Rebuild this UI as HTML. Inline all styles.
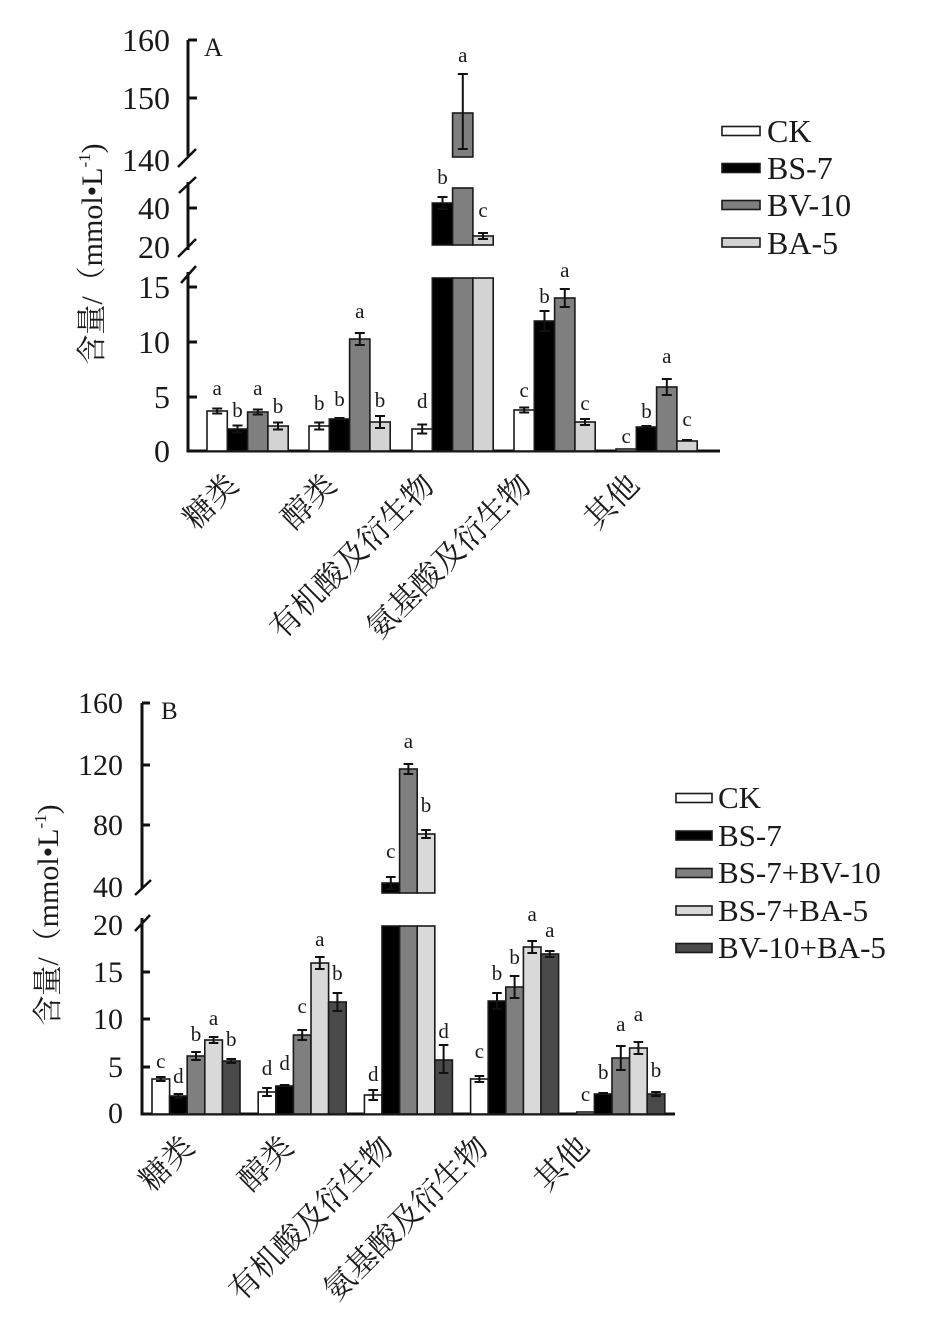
<!DOCTYPE html>
<html>
<head>
<meta charset="utf-8">
<style>
html,body{margin:0;padding:0;background:#fff;}
svg{display:block;}
.t{font-family:"Liberation Serif","Noto Serif CJK SC",serif;fill:#1a1a1a;}
.cj{font-family:"Liberation Serif","Noto Serif CJK SC",serif;fill:#1a1a1a;font-size:31px;}
.lt{font-family:"Liberation Serif",serif;fill:#1a1a1a;font-size:21px;text-anchor:middle;}
.ax{stroke:#111;stroke-width:3;fill:none;}
.b{stroke:#1a1a1a;stroke-width:1.6;}
.e{stroke:#111;stroke-width:2;fill:none;}
</style>
</head>
<body>
<svg width="950" height="1330" viewBox="0 0 950 1330" xmlns="http://www.w3.org/2000/svg">
<rect x="0" y="0" width="950" height="1330" fill="#fff"/>

<!-- ================= PANEL A ================= -->
<!-- axis -->
<g class="ax">
  <line x1="188" y1="40" x2="188" y2="156"/>
  <line x1="188" y1="182" x2="188" y2="250"/>
  <line x1="188" y1="272" x2="188" y2="452"/>
  <line x1="186.5" y1="451" x2="720" y2="451"/>
  <!-- ticks -->
  <line x1="188" y1="40" x2="197" y2="40"/>
  <line x1="188" y1="98" x2="197" y2="98"/>
  <line x1="188" y1="208" x2="197" y2="208"/>
  <line x1="188" y1="287" x2="197" y2="287"/>
  <line x1="188" y1="342" x2="197" y2="342"/>
  <line x1="188" y1="397" x2="197" y2="397"/>
  <!-- break slashes -->
  <line x1="178" y1="167" x2="196" y2="149" stroke-width="2.5"/>
  <line x1="179" y1="193" x2="196" y2="177" stroke-width="2.5"/>
  <line x1="178" y1="257" x2="196" y2="239" stroke-width="2.5"/>
  <line x1="181" y1="283" x2="196" y2="266" stroke-width="2.5"/>
</g>
<!-- tick labels -->
<g class="t" font-size="32" text-anchor="end">
  <text x="170" y="51">160</text>
  <text x="170" y="109">150</text>
  <text x="170" y="171">140</text>
  <text x="170" y="219">40</text>
  <text x="170" y="258">20</text>
  <text x="170" y="298">15</text>
  <text x="170" y="353">10</text>
  <text x="170" y="408">5</text>
  <text x="170" y="462">0</text>
</g>
<text class="t" x="204" y="56" font-size="26">A</text>
<!-- y label -->
<text class="t" font-size="30" text-anchor="middle" transform="translate(102,254) rotate(-90)">含量/（mmol•L<tspan font-size="17" dy="-12">-1</tspan><tspan dy="12">)</tspan></text>

<!-- bars A -->
<g class="b">
  <!-- G1 -->
  <rect x="207" y="411" width="20.3" height="40" fill="#fff"/>
  <rect x="227.3" y="429" width="20.3" height="22" fill="#000"/>
  <rect x="247.6" y="412" width="20.3" height="39" fill="#7f7f7f"/>
  <rect x="267.9" y="426" width="20.3" height="25" fill="#d3d3d3"/>
  <!-- G2 -->
  <rect x="309" y="426" width="20.3" height="25" fill="#fff"/>
  <rect x="329.3" y="419" width="20.3" height="32" fill="#000"/>
  <rect x="349.6" y="339" width="20.3" height="112" fill="#7f7f7f"/>
  <rect x="369.9" y="422" width="20.3" height="29" fill="#d3d3d3"/>
  <!-- G3 -->
  <rect x="412" y="429" width="20.3" height="22" fill="#fff"/>
  <rect x="432.3" y="278" width="20.3" height="173" fill="#000"/>
  <rect x="452.6" y="278" width="20.3" height="173" fill="#7f7f7f"/>
  <rect x="472.9" y="278" width="20.3" height="173" fill="#d3d3d3"/>
  <rect x="432.3" y="203" width="20.3" height="42" fill="#000"/>
  <rect x="452.6" y="188" width="20.3" height="57" fill="#7f7f7f"/>
  <rect x="472.9" y="236" width="20.3" height="9" fill="#d3d3d3"/>
  <rect x="452.6" y="113" width="20.3" height="44" fill="#7f7f7f"/>
  <!-- G4 -->
  <rect x="514" y="410" width="20.3" height="41" fill="#fff"/>
  <rect x="534.3" y="321" width="20.3" height="130" fill="#000"/>
  <rect x="554.6" y="298" width="20.3" height="153" fill="#7f7f7f"/>
  <rect x="574.9" y="422" width="20.3" height="29" fill="#d3d3d3"/>
  <!-- G5 -->
  <rect x="616" y="449" width="20.3" height="2" fill="#fff"/>
  <rect x="636.3" y="427" width="20.3" height="24" fill="#000"/>
  <rect x="656.6" y="387" width="20.3" height="64" fill="#7f7f7f"/>
  <rect x="676.9" y="441" width="20.3" height="10" fill="#d3d3d3"/>
</g>
<!-- error bars A -->
<g class="e">
  <path d="M217.2 408.5V413.5M212.2 408.5H222.2M212.2 413.5H222.2"/>
  <path d="M237.5 425.5V432.5M232.5 425.5H242.5M232.5 432.5H242.5"/>
  <path d="M257.8 409.5V414.5M252.8 409.5H262.8M252.8 414.5H262.8"/>
  <path d="M278 422.5V429.5M273 422.5H283M273 429.5H283"/>
  <path d="M319.2 422.5V429.5M314.2 422.5H324.2M314.2 429.5H324.2"/>
  <path d="M334.5 418H344.5"/>
  <path d="M359.8 333V345M354.8 333H364.8M354.8 345H364.8"/>
  <path d="M380 416V428M375 416H385M375 428H385"/>
  <path d="M422.2 424.5V433.5M417.2 424.5H427.2M417.2 433.5H427.2"/>
  <path d="M442.5 197V209M437.5 197H447.5M437.5 209H447.5"/>
  <path d="M462.8 74V149M457.8 74H467.8M457.8 149H467.8"/>
  <path d="M483 233V239M478 233H488M478 239H488"/>
  <path d="M524.2 407.5V412.5M519.2 407.5H529.2M519.2 412.5H529.2"/>
  <path d="M544.5 311V331M539.5 311H549.5M539.5 331H549.5"/>
  <path d="M564.8 289V307M559.8 289H569.8M559.8 307H569.8"/>
  <path d="M585 419V425M580 419H590M580 425H590"/>
  <path d="M641.5 426H651.5"/>
  <path d="M666.8 379V395M661.8 379H671.8M661.8 395H671.8"/>
  <path d="M682 440H692"/>
</g>
<!-- letters A -->
<g class="lt">
  <text x="217.2" y="395">a</text>
  <text x="237.5" y="417">b</text>
  <text x="257.8" y="395">a</text>
  <text x="278" y="413">b</text>
  <text x="319.2" y="410">b</text>
  <text x="339.5" y="406">b</text>
  <text x="359.8" y="318">a</text>
  <text x="380" y="407">b</text>
  <text x="422.2" y="408">d</text>
  <text x="442.5" y="184">b</text>
  <text x="462.8" y="62">a</text>
  <text x="483" y="217">c</text>
  <text x="524.2" y="397">c</text>
  <text x="544.5" y="303">b</text>
  <text x="564.8" y="277">a</text>
  <text x="585" y="410">c</text>
  <text x="626.2" y="443">c</text>
  <text x="646.5" y="418">b</text>
  <text x="666.8" y="363">a</text>
  <text x="687" y="426">c</text>
</g>
<!-- x labels A -->
<g class="cj" text-anchor="end">
  <text transform="translate(240,487) rotate(-45)">糖类</text>
  <text transform="translate(338,487) rotate(-45)">醇类</text>
  <text transform="translate(436,487) rotate(-45)">有机酸及衍生物</text>
  <text transform="translate(533,487) rotate(-45)">氨基酸及衍生物</text>
  <text transform="translate(641,487) rotate(-45)">其他</text>
</g>
<!-- legend A -->
<g class="b">
  <rect x="722" y="126.5" width="38" height="9" fill="#fff"/>
  <rect x="722" y="163.5" width="38" height="9" fill="#000"/>
  <rect x="722" y="200.5" width="38" height="9" fill="#7f7f7f"/>
  <rect x="722" y="238" width="38" height="9" fill="#d3d3d3"/>
</g>
<g class="t" font-size="32">
  <text x="767" y="142">CK</text>
  <text x="767" y="179">BS-7</text>
  <text x="767" y="216">BV-10</text>
  <text x="767" y="254">BA-5</text>
</g>

<!-- ================= PANEL B ================= -->
<g class="ax">
  <line x1="142" y1="703" x2="142" y2="888"/>
  <line x1="142" y1="918" x2="142" y2="1115"/>
  <line x1="140.5" y1="1114" x2="675" y2="1114"/>
  <line x1="142" y1="703" x2="150" y2="703"/>
  <line x1="142" y1="765" x2="150" y2="765"/>
  <line x1="142" y1="825" x2="150" y2="825"/>
  <line x1="142" y1="972" x2="150" y2="972"/>
  <line x1="142" y1="1019" x2="150" y2="1019"/>
  <line x1="142" y1="1067" x2="150" y2="1067"/>
  <line x1="135" y1="895" x2="151" y2="880" stroke-width="2.5"/>
  <line x1="135" y1="931" x2="150" y2="915" stroke-width="2.5"/>
</g>
<g class="t" font-size="30" text-anchor="end">
  <text x="123" y="713">160</text>
  <text x="123" y="775">120</text>
  <text x="123" y="835">80</text>
  <text x="123" y="897">40</text>
  <text x="123" y="935">20</text>
  <text x="123" y="982">15</text>
  <text x="123" y="1029">10</text>
  <text x="123" y="1077">5</text>
  <text x="123" y="1123">0</text>
</g>
<text class="t" x="161" y="719" font-size="25">B</text>
<text class="t" font-size="30" text-anchor="middle" transform="translate(58,915) rotate(-90)">含量/（mmol•L<tspan font-size="17" dy="-12">-1</tspan><tspan dy="12">)</tspan></text>

<g class="b">
  <!-- G1 -->
  <rect x="152" y="1079" width="17.6" height="35" fill="#fff"/>
  <rect x="169.6" y="1096" width="17.6" height="18" fill="#000"/>
  <rect x="187.2" y="1056" width="17.6" height="58" fill="#7f7f7f"/>
  <rect x="204.8" y="1040" width="17.6" height="74" fill="#d9d9d9"/>
  <rect x="222.4" y="1061" width="17.6" height="53" fill="#4a4a4a"/>
  <!-- G2 -->
  <rect x="258.2" y="1092" width="17.6" height="22" fill="#fff"/>
  <rect x="275.8" y="1086" width="17.6" height="28" fill="#000"/>
  <rect x="293.4" y="1035" width="17.6" height="79" fill="#7f7f7f"/>
  <rect x="311" y="963" width="17.6" height="151" fill="#d9d9d9"/>
  <rect x="328.6" y="1002" width="17.6" height="112" fill="#4a4a4a"/>
  <!-- G3 -->
  <rect x="364.4" y="1095" width="17.6" height="19" fill="#fff"/>
  <rect x="382" y="926" width="17.6" height="188" fill="#000"/>
  <rect x="399.6" y="926" width="17.6" height="188" fill="#7f7f7f"/>
  <rect x="417.2" y="926" width="17.6" height="188" fill="#d9d9d9"/>
  <rect x="434.8" y="1060" width="17.6" height="54" fill="#4a4a4a"/>
  <rect x="382" y="883" width="17.6" height="10" fill="#000"/>
  <rect x="399.6" y="769" width="17.6" height="124" fill="#7f7f7f"/>
  <rect x="417.2" y="834" width="17.6" height="59" fill="#d9d9d9"/>
  <!-- G4 -->
  <rect x="470.6" y="1079" width="17.6" height="35" fill="#fff"/>
  <rect x="488.2" y="1001" width="17.6" height="113" fill="#000"/>
  <rect x="505.8" y="987" width="17.6" height="127" fill="#7f7f7f"/>
  <rect x="523.4" y="947" width="17.6" height="167" fill="#d9d9d9"/>
  <rect x="541" y="954" width="17.6" height="160" fill="#4a4a4a"/>
  <!-- G5 -->
  <rect x="576.8" y="1112" width="17.6" height="2" fill="#fff"/>
  <rect x="594.4" y="1094" width="17.6" height="20" fill="#000"/>
  <rect x="612" y="1058" width="17.6" height="56" fill="#7f7f7f"/>
  <rect x="629.6" y="1048" width="17.6" height="66" fill="#d9d9d9"/>
  <rect x="647.2" y="1094" width="17.6" height="20" fill="#4a4a4a"/>
</g>
<g class="e">
  <path d="M160.8 1077V1081M156 1077H165.6M156 1081H165.6"/>
  <path d="M178.4 1094V1098M173.6 1094H183.2M173.6 1098H183.2"/>
  <path d="M196 1052V1060M191.2 1052H200.8M191.2 1060H200.8"/>
  <path d="M213.6 1037V1043M208.8 1037H218.4M208.8 1043H218.4"/>
  <path d="M231.2 1059V1063M226.4 1059H236M226.4 1063H236"/>
  <path d="M267 1088V1096M262.2 1088H271.8M262.2 1096H271.8"/>
  <path d="M279.8 1085H289.4"/>
  <path d="M302.2 1030V1040M297.4 1030H307M297.4 1040H307"/>
  <path d="M319.8 957V969M315 957H324.6M315 969H324.6"/>
  <path d="M337.4 993V1011M332.6 993H342.2M332.6 1011H342.2"/>
  <path d="M373.2 1090V1100M368.4 1090H378M368.4 1100H378"/>
  <path d="M390.8 877V889M386 877H395.6M386 889H395.6"/>
  <path d="M408.4 764V774M403.6 764H413.2M403.6 774H413.2"/>
  <path d="M426 830V838M421.2 830H430.8M421.2 838H430.8"/>
  <path d="M443.6 1045V1073M438.8 1045H448.4M438.8 1073H448.4"/>
  <path d="M479.4 1076V1082M474.6 1076H484.2M474.6 1082H484.2"/>
  <path d="M497 993V1009M492.2 993H501.8M492.2 1009H501.8"/>
  <path d="M514.6 976V998M509.8 976H519.4M509.8 998H519.4"/>
  <path d="M532.2 941V953M527.4 941H537M527.4 953H537"/>
  <path d="M549.8 951V957M545 951H554.6M545 957H554.6"/>
  <path d="M598.4 1093H608"/>
  <path d="M620.8 1046V1070M616 1046H625.6M616 1070H625.6"/>
  <path d="M638.4 1042V1054M633.6 1042H643.2M633.6 1054H643.2"/>
  <path d="M656 1092V1096M651.2 1092H660.8M651.2 1096H660.8"/>
</g>
<g class="lt" font-size="20">
  <text x="160.8" y="1068">c</text>
  <text x="178.4" y="1083">d</text>
  <text x="196" y="1041">b</text>
  <text x="213.6" y="1025">a</text>
  <text x="231.2" y="1046">b</text>
  <text x="267" y="1075">d</text>
  <text x="284.6" y="1070">d</text>
  <text x="302.2" y="1013">c</text>
  <text x="319.8" y="946">a</text>
  <text x="337.4" y="980">b</text>
  <text x="373.2" y="1081">d</text>
  <text x="390.8" y="858">c</text>
  <text x="408.4" y="748">a</text>
  <text x="426" y="812">b</text>
  <text x="443.6" y="1038">d</text>
  <text x="479.4" y="1058">c</text>
  <text x="497" y="980">b</text>
  <text x="514.6" y="964">b</text>
  <text x="532.2" y="921">a</text>
  <text x="549.8" y="937">a</text>
  <text x="585.6" y="1101">c</text>
  <text x="603.2" y="1079">b</text>
  <text x="620.8" y="1031">a</text>
  <text x="638.4" y="1021">a</text>
  <text x="656" y="1077">b</text>
</g>
<g class="cj" text-anchor="end">
  <text transform="translate(196,1149) rotate(-45)">糖类</text>
  <text transform="translate(295,1149) rotate(-45)">醇类</text>
  <text transform="translate(395,1149) rotate(-45)">有机酸及衍生物</text>
  <text transform="translate(490,1149) rotate(-45)">氨基酸及衍生物</text>
  <text transform="translate(591,1149) rotate(-45)">其他</text>
</g>
<g class="b">
  <rect x="676" y="793.5" width="36" height="9" fill="#fff"/>
  <rect x="676" y="831" width="36" height="9" fill="#000"/>
  <rect x="676" y="868.5" width="36" height="9" fill="#7f7f7f"/>
  <rect x="676" y="906" width="36" height="9" fill="#d9d9d9"/>
  <rect x="676" y="943.5" width="36" height="9" fill="#4a4a4a"/>
</g>
<g class="t" font-size="31">
  <text x="718" y="808">CK</text>
  <text x="718" y="846">BS-7</text>
  <text x="718" y="883">BS-7+BV-10</text>
  <text x="718" y="921">BS-7+BA-5</text>
  <text x="718" y="958">BV-10+BA-5</text>
</g>
</svg>
</body>
</html>
